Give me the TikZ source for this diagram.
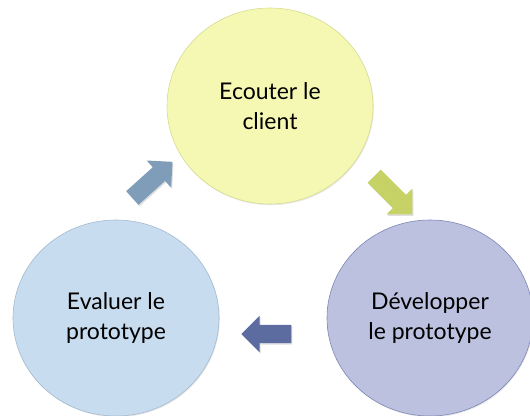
\documentclass[tikz,border=0pt]{standalone}
\usepackage{fontspec}
\setmainfont{Lato}
\usetikzlibrary{shapes.geometric,shapes.arrows,shadows}

\definecolor{jauneA}{HTML}{F4F8B2}
\definecolor{jauneB}{HTML}{F1F996}
\definecolor{jauneT}{HTML}{D6DC90}
\definecolor{bleuA}{HTML}{C8DCEF}
\definecolor{bleuB}{HTML}{B8D1E8}
\definecolor{bleuT}{HTML}{A3BAD0}
\definecolor{violA}{HTML}{BCC1DF}
\definecolor{violB}{HTML}{A9B1D5}
\definecolor{violT}{HTML}{7F88B6}
\definecolor{flecheBleu}{HTML}{7F9DB9}
\definecolor{flecheVert}{HTML}{C6D166}
\definecolor{flecheViol}{HTML}{5C6BA0}

\tikzset{
  etape/.style={ellipse, minimum width=206pt, minimum height=196pt, inner sep=0pt,
    align=center, font=\fontsize{23}{30}\selectfont, line width=0.6pt,
    drop shadow={opacity=0.18, shadow xshift=0.8pt, shadow yshift=-1.2pt}},
  fleche/.style={single arrow, minimum height=54pt, inner sep=9pt,
    single arrow head extend=9pt, single arrow head indent=0pt,
    drop shadow={opacity=0.25, shadow xshift=1pt, shadow yshift=-1.5pt}}
}

\begin{document}
\begin{tikzpicture}[x=1pt,y=1pt]
\useasboundingbox (0,0) rectangle (530,415);

\node [etape, draw=jauneT, left color=jauneA, middle color=jauneB, right color=jauneA] (ecoute) at (270,309) {Ecouter le\\client};
\node [etape, draw=violT, left color=violA, middle color=violB, right color=violA] (dev) at (430,97) {Développer\\le prototype};
\node [etape, draw=bleuT, left color=bleuA, middle color=bleuB, right color=bleuA] (eval) at (116,97) {Evaluer le\\prototype};

\node [fleche, fill=flecheVert, rotate=-45] (f1) at (390,223) {};
\node [fleche, fill=flecheViol, rotate=180, minimum height=50pt] (f2) at (271,81) {};
\node [fleche, fill=flecheBleu, rotate=42] (f3) at (149,232) {};

\end{tikzpicture}
\end{document}
